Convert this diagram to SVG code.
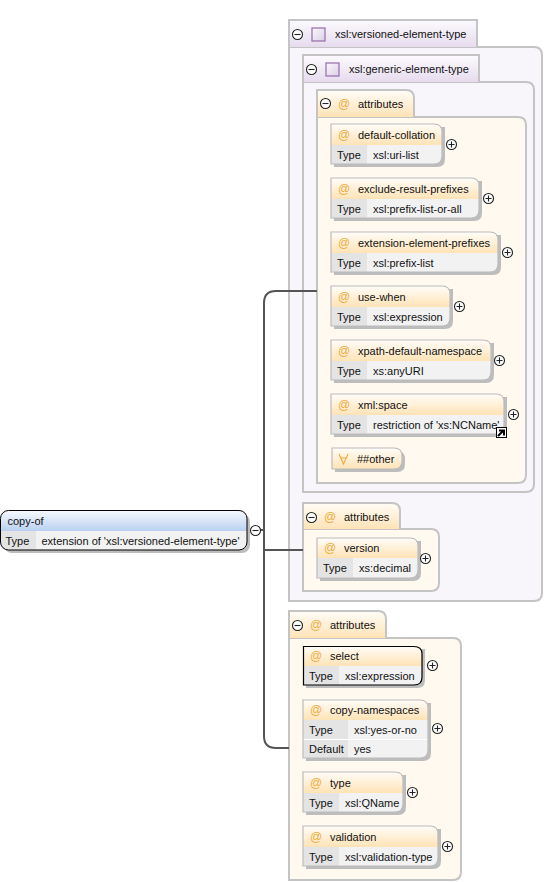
<svg xmlns="http://www.w3.org/2000/svg" width="549" height="882" viewBox="0 0 549 882">
<style>
text{font-family:"Liberation Sans",Arial,sans-serif;font-size:11px;fill:#111}
.b{stroke:#c4c4c4;stroke-width:2}
.pb{fill:#f9f6fb}.ab{fill:#fff9ef}
.sh{fill:#bdbdbd}
.bd{fill:none;stroke:#bcbcbc;stroke-width:1.200}
.sel{stroke:#000}
.lab{fill:#e4e4e4}.val{fill:#f2f2f2}
text.at{font-size:12px;fill:#f0ac3c}
.btn{fill:#fff;stroke:#222;stroke-width:1.100}
.sym{stroke:#222;stroke-width:1.100;fill:none}
.conn{fill:none;stroke:#555;stroke-width:2}
.sq{fill:url(#sq);stroke:#9c74ae;stroke-width:1.300}
</style>
<defs>
<linearGradient id="pt" x1="0" y1="0" x2="0" y2="1"><stop offset="0" stop-color="#fdfbfe"/><stop offset="1" stop-color="#e6dbee"/></linearGradient>
<linearGradient id="ot" x1="0" y1="0" x2="0" y2="1"><stop offset="0" stop-color="#fffdf9"/><stop offset="1" stop-color="#ffe3b6"/></linearGradient>
<linearGradient id="et" x1="0" y1="0" x2="0" y2="1"><stop offset="0" stop-color="#f6f9fe"/><stop offset="1" stop-color="#b9d0f1"/></linearGradient>
<linearGradient id="sq" x1="0" y1="0" x2="1" y2="1"><stop offset="0" stop-color="#fbf8fd"/><stop offset="1" stop-color="#dccfe6"/></linearGradient>
<g id="minus"><circle class="btn" cx="0.500" cy="0.500" r="5"/><path class="sym" d="M-2.500 0.500H3.500"/></g>
<g id="plus"><circle class="btn" cx="0.500" cy="0.500" r="5"/><path class="sym" d="M-2.500 0.500H3.500M0.500-2.500V3.500"/></g>
</defs>

<g id="versioned-element-type">
<path class="pb b" d="M289 47H534Q542 47 542 55V593Q542 601 534 601H289Z"/>
<path fill="url(#pt)" d="M289 20H477V47H289Z"/>
<path class="b" fill="none" d="M289 47V20H477V47"/>
<use href="#minus" x="297" y="34"/>
<rect class="sq" x="312" y="28" width="13" height="13"/>
<text x="335" y="38">xsl:versioned-element-type</text>
</g>

<g id="generic-element-type">
<path class="pb b" d="M303 82H526Q534 82 534 90V484Q534 492 526 492H303Z"/>
<path fill="url(#pt)" d="M303 55H479V82H303Z"/>
<path class="b" fill="none" d="M303 82V55H479V82"/>
<use href="#minus" x="311" y="69"/>
<rect class="sq" x="326" y="63" width="13" height="13"/>
<text x="349" y="73">xsl:generic-element-type</text>
</g>

<g id="attributes-1">
<path class="ab b" d="M317 117H518Q526 117 526 125V475Q526 483 518 483H317Z"/>
<path fill="url(#ot)" d="M317 90H406Q414 90 414 98V117H317Z"/>
<path class="b" fill="none" d="M317 117V90H406Q414 90 414 98V117"/>
<use href="#minus" x="325" y="103"/>
<text class="at" x="338" y="108">@</text>
<text x="358" y="108">attributes</text>
</g>

<g id="default-collation">
<path class="sh" d="M334 127H445V159Q445 167 437 167H334Z"/>
<path fill="url(#ot)" d="M331 124H434Q442 124 442 132V145H331Z"/>
<path class="val" d="M367 145H442V156Q442 164 434 164H367Z"/><rect class="lab" x="331" y="145" width="36" height="19"/>
<path class="bd" d="M331 124H434Q442 124 442 132V156Q442 164 434 164H331Z"/>
<text class="at" x="338" y="139">@</text><text x="358" y="139">default-collation</text>
<text x="337" y="159">Type</text><text x="373" y="159">xsl:uri-list</text>
<use href="#plus" x="451" y="144"/>
</g>

<g id="exclude-result-prefixes">
<path class="sh" d="M334 181H482V213Q482 221 474 221H334Z"/>
<path fill="url(#ot)" d="M331 178H471Q479 178 479 186V199H331Z"/>
<path class="val" d="M367 199H479V210Q479 218 471 218H367Z"/><rect class="lab" x="331" y="199" width="36" height="19"/>
<path class="bd" d="M331 178H471Q479 178 479 186V210Q479 218 471 218H331Z"/>
<text class="at" x="338" y="193">@</text><text x="358" y="193">exclude-result-prefixes</text>
<text x="337" y="213">Type</text><text x="373" y="213">xsl:prefix-list-or-all</text>
<use href="#plus" x="488" y="198"/>
</g>

<g id="extension-element-prefixes">
<path class="sh" d="M334 235H501V267Q501 275 493 275H334Z"/>
<path fill="url(#ot)" d="M331 232H490Q498 232 498 240V253H331Z"/>
<path class="val" d="M367 253H498V264Q498 272 490 272H367Z"/><rect class="lab" x="331" y="253" width="36" height="19"/>
<path class="bd" d="M331 232H490Q498 232 498 240V264Q498 272 490 272H331Z"/>
<text class="at" x="338" y="247">@</text><text x="358" y="247">extension-element-prefixes</text>
<text x="337" y="267">Type</text><text x="373" y="267">xsl:prefix-list</text>
<use href="#plus" x="507" y="252"/>
</g>

<g id="use-when">
<path class="sh" d="M334 289H453V321Q453 329 445 329H334Z"/>
<path fill="url(#ot)" d="M331 286H442Q450 286 450 294V307H331Z"/>
<path class="val" d="M367 307H450V318Q450 326 442 326H367Z"/><rect class="lab" x="331" y="307" width="36" height="19"/>
<path class="bd" d="M331 286H442Q450 286 450 294V318Q450 326 442 326H331Z"/>
<text class="at" x="338" y="301">@</text><text x="358" y="301">use-when</text>
<text x="337" y="321">Type</text><text x="373" y="321">xsl:expression</text>
<use href="#plus" x="459" y="306"/>
</g>

<g id="xpath-default-namespace">
<path class="sh" d="M334 343H494V375Q494 383 486 383H334Z"/>
<path fill="url(#ot)" d="M331 340H483Q491 340 491 348V361H331Z"/>
<path class="val" d="M367 361H491V372Q491 380 483 380H367Z"/><rect class="lab" x="331" y="361" width="36" height="19"/>
<path class="bd" d="M331 340H483Q491 340 491 348V372Q491 380 483 380H331Z"/>
<text class="at" x="338" y="355">@</text><text x="358" y="355">xpath-default-namespace</text>
<text x="337" y="375">Type</text><text x="373" y="375">xs:anyURI</text>
<use href="#plus" x="499" y="360"/>
</g>

<g id="xml-space">
<path class="sh" d="M334 397H507V429Q507 437 499 437H334Z"/>
<path fill="url(#ot)" d="M331 394H496Q504 394 504 402V415H331Z"/>
<path class="val" d="M367 415H504V426Q504 434 496 434H367Z"/><rect class="lab" x="331" y="415" width="36" height="19"/>
<path class="bd" d="M331 394H496Q504 394 504 402V426Q504 434 496 434H331Z"/>
<text class="at" x="338" y="409">@</text><text x="358" y="409">xml:space</text>
<text x="337" y="429">Type</text><text x="373" y="429">restriction of 'xs:NCName'</text>
<rect x="496.500" y="427.500" width="10" height="10" fill="#fff" stroke="#000"/>
<path d="M498 436L503 431M499 430.500H504V435.500" fill="none" stroke="#000" stroke-width="2"/>
<use href="#plus" x="513" y="414"/>
</g>

<g id="other">
<path class="sh" d="M335 451H397Q405 451 405 459V464Q405 472 397 472H335Z"/>
<path fill="url(#ot)" stroke="#bcbcbc" stroke-width="1.200" d="M332 448H394Q402 448 402 456V461Q402 469 394 469H332Z"/>
<path d="M339 454L343.500 464L348 454M340.500 458H346.500" fill="none" stroke="#f0a830" stroke-width="1.100"/>
<text x="357" y="463">##other</text>
</g>

<g id="attributes-2">
<path class="ab b" d="M303 529H431Q439 529 439 537V583Q439 591 431 591H303Z"/>
<path fill="url(#ot)" d="M303 503H392Q400 503 400 511V529H303Z"/>
<path class="b" fill="none" d="M303 529V503H392Q400 503 400 511V529"/>
<use href="#minus" x="311" y="517"/>
<text class="at" x="324" y="521">@</text>
<text x="344" y="521">attributes</text>
</g>

<g id="version">
<path class="sh" d="M320 541H421V573Q421 581 413 581H320Z"/>
<path fill="url(#ot)" d="M317 538H410Q418 538 418 546V558H317Z"/>
<path class="val" d="M353 558H418V570Q418 578 410 578H353Z"/><rect class="lab" x="317" y="558" width="36" height="20"/>
<path class="bd" d="M317 538H410Q418 538 418 546V570Q418 578 410 578H317Z"/>
<text class="at" x="324" y="552">@</text><text x="344" y="552">version</text>
<text x="323" y="572">Type</text><text x="359" y="572">xs:decimal</text>
<use href="#plus" x="425" y="558"/>
</g>

<g id="attributes-3">
<path class="ab b" d="M289 638H453Q461 638 461 646V872Q461 880 453 880H289Z"/>
<path fill="url(#ot)" d="M289 611H378Q386 611 386 619V638H289Z"/>
<path class="b" fill="none" d="M289 638V611H378Q386 611 386 619V638"/>
<use href="#minus" x="297" y="625"/>
<text class="at" x="310" y="629">@</text>
<text x="330" y="629">attributes</text>
</g>

<g id="select">
<path class="sh" d="M306 649H425V680Q425 688 417 688H306Z"/>
<path fill="url(#ot)" d="M303 646H414Q422 646 422 654V666H303Z"/>
<path class="val" d="M339 666H422V677Q422 685 414 685H339Z"/><rect class="lab" x="303" y="666" width="36" height="19"/>
<path class="bd sel" d="M303.500 646.500H414Q422 646.500 422 654V677Q422 685 414 685H303.500Z"/>
<text class="at" x="310" y="660">@</text><text x="330" y="660">select</text>
<text x="309" y="680">Type</text><text x="345" y="680">xsl:expression</text>
<use href="#plus" x="432" y="665"/>
</g>

<g id="copy-namespaces">
<path class="sh" d="M306 703H431V753Q431 761 423 761H306Z"/>
<path fill="url(#ot)" d="M303 700H420Q428 700 428 708V720H303Z"/>
<path class="val" d="M348 720H428V750Q428 758 420 758H348Z"/><rect class="lab" x="303" y="720" width="45" height="38"/>
<path d="M303 739.500H428" stroke="#fff" fill="none"/>
<path class="bd" d="M303 700H420Q428 700 428 708V750Q428 758 420 758H303Z"/>
<text class="at" x="310" y="714">@</text><text x="330" y="714">copy-namespaces</text>
<text x="309" y="734">Type</text><text x="354" y="734">xsl:yes-or-no</text>
<text x="309" y="753">Default</text><text x="354" y="753">yes</text>
<use href="#plus" x="437" y="728"/>
</g>

<g id="type">
<path class="sh" d="M306 775H406V807Q406 815 398 815H306Z"/>
<path fill="url(#ot)" d="M303 772H395Q403 772 403 780V793H303Z"/>
<path class="val" d="M339 793H403V804Q403 812 395 812H339Z"/><rect class="lab" x="303" y="793" width="36" height="19"/>
<path class="bd" d="M303 772H395Q403 772 403 780V804Q403 812 395 812H303Z"/>
<text class="at" x="310" y="787">@</text><text x="330" y="787">type</text>
<text x="309" y="807">Type</text><text x="345" y="807">xsl:QName</text>
<use href="#plus" x="412" y="792"/>
</g>

<g id="validation">
<path class="sh" d="M306 829H441V861Q441 869 433 869H306Z"/>
<path fill="url(#ot)" d="M303 826H430Q438 826 438 834V847H303Z"/>
<path class="val" d="M339 847H438V858Q438 866 430 866H339Z"/><rect class="lab" x="303" y="847" width="36" height="19"/>
<path class="bd" d="M303 826H430Q438 826 438 834V858Q438 866 430 866H303Z"/>
<text class="at" x="310" y="841">@</text><text x="330" y="841">validation</text>
<text x="309" y="861">Type</text><text x="345" y="861">xsl:validation-type</text>
<use href="#plus" x="447" y="846"/>
</g>

<g id="connectors">
<path class="conn" d="M317 291H276Q264 291 264 303V736Q264 748 276 748H289"/>
<path class="conn" d="M264 550H303"/>
<path class="conn" d="M260 530H264"/>
</g>

<g id="copy-of">
<rect class="sh" x="4" y="514" width="246" height="39" rx="8"/>
<path fill="url(#et)" d="M9 511H239Q247 511 247 519V531H1V519Q1 511 9 511Z"/>
<path class="val" d="M36 531H247V542Q247 550 239 550H36Z"/><path class="lab" d="M1 531H36V550H9Q1 550 1 542Z"/>
<rect x="0.500" y="510.500" width="246.500" height="39.500" rx="8" fill="none" stroke="#000" stroke-width="1"/>
<text x="7.500" y="525">copy-of</text>
<text x="5.500" y="545">Type</text><text x="41.500" y="545">extension of 'xsl:versioned-element-type'</text>
<use href="#minus" x="255" y="530"/>
</g>
</svg>
